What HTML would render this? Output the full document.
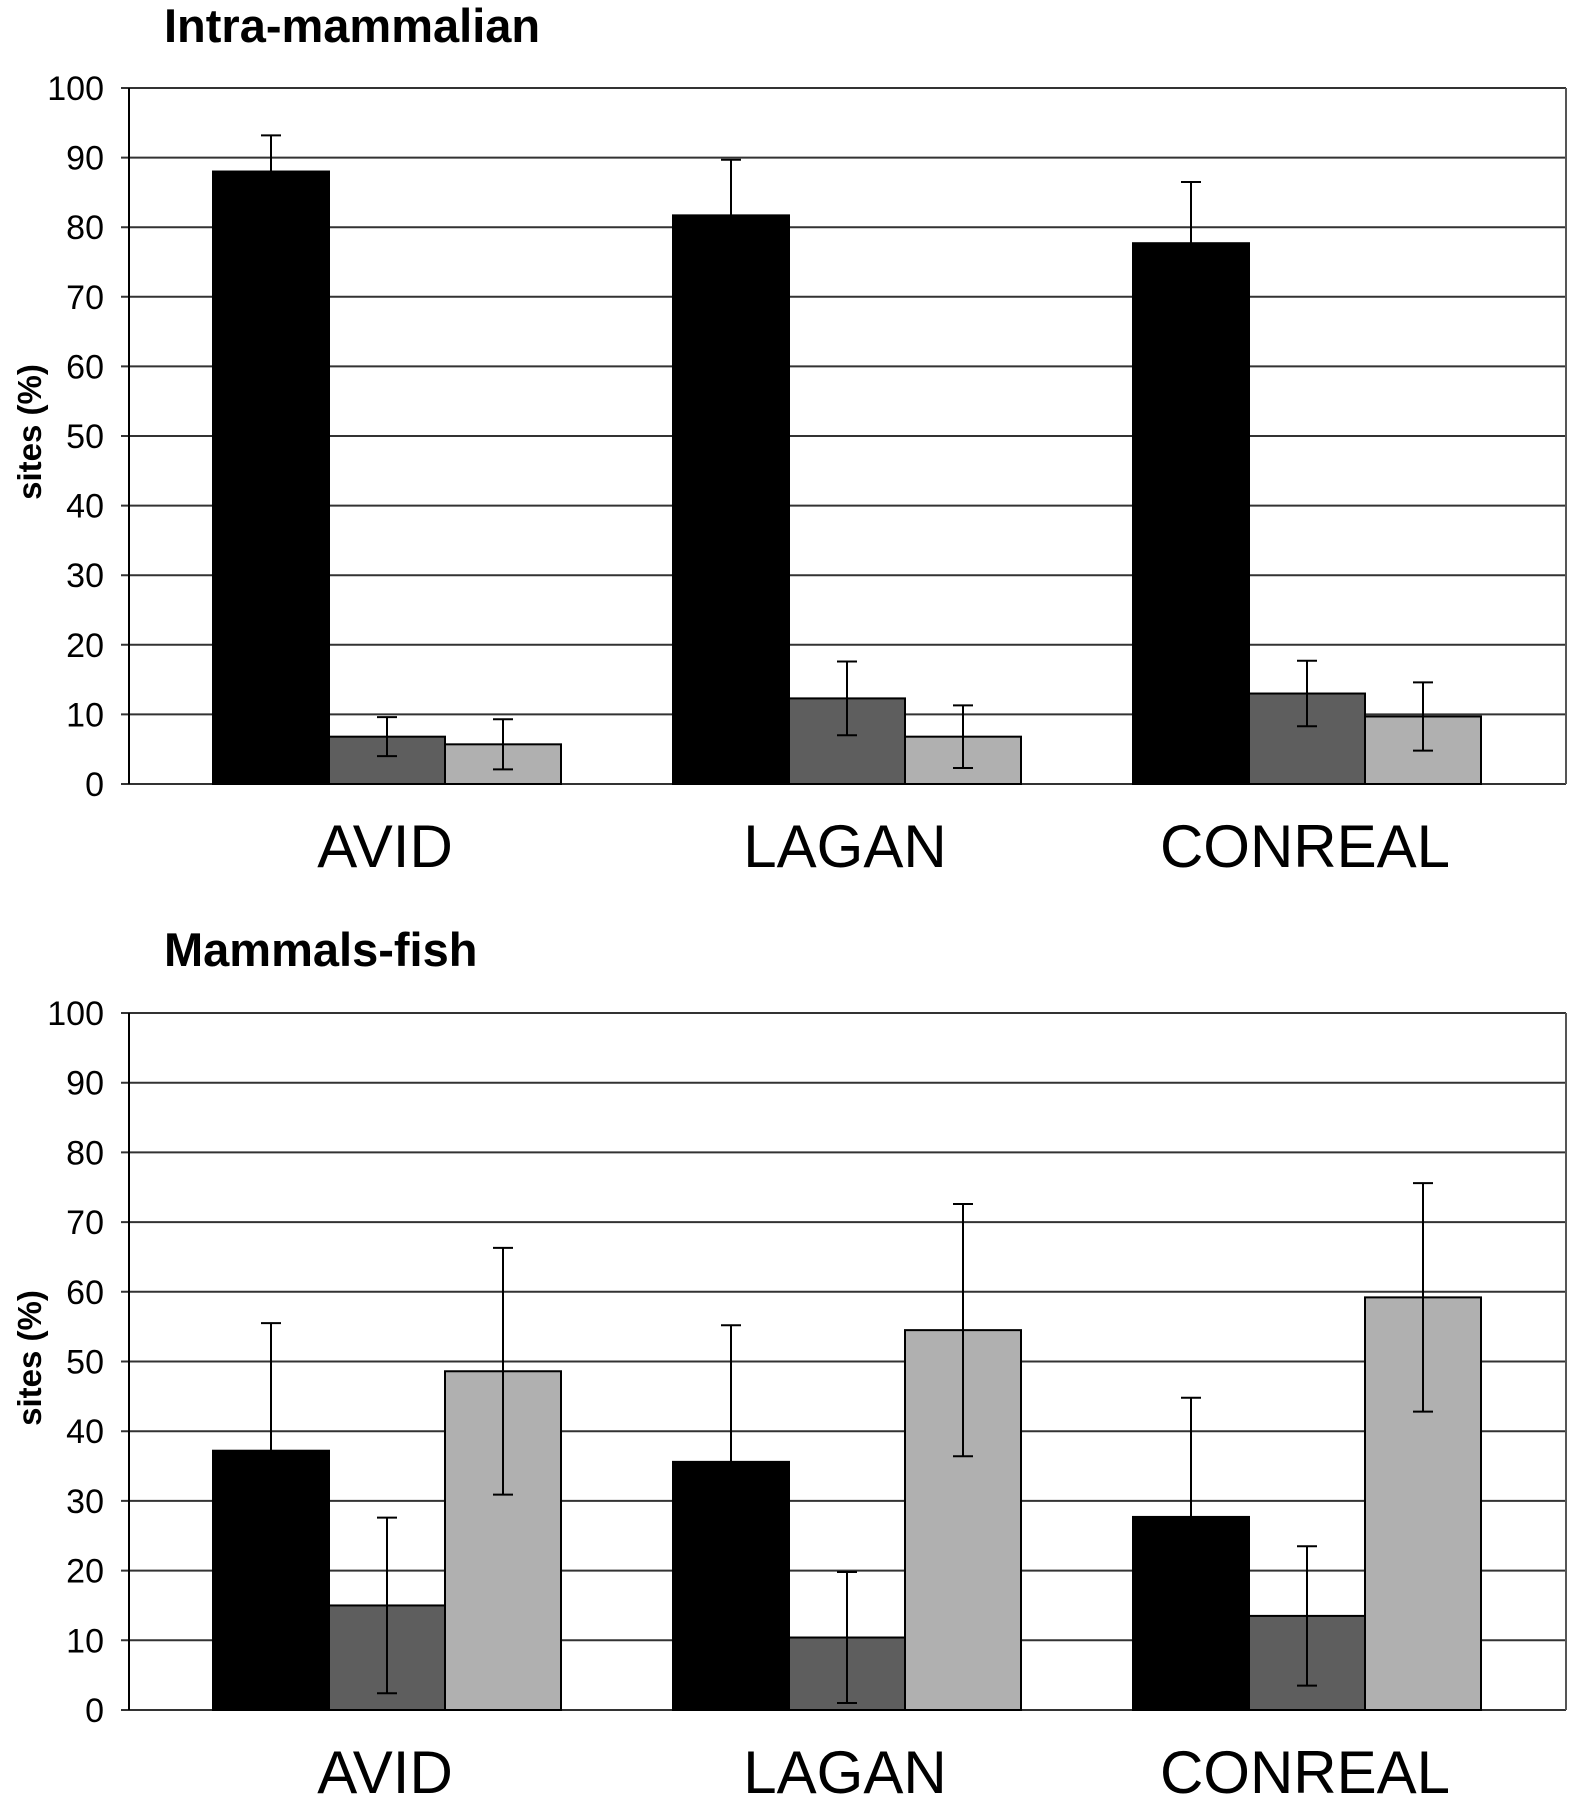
<!DOCTYPE html>
<html><head><meta charset="utf-8"><style>
html,body{margin:0;padding:0;background:#fff;}
svg{display:block;font-family:"Liberation Sans",Arial,sans-serif;}
</style></head><body>
<svg id="chart" width="1576" height="1800" viewBox="0 0 1576 1800" xmlns="http://www.w3.org/2000/svg"></svg>
<script>
const categories = ["AVID","LAGAN","CONREAL"];
const ticks = [0,10,20,30,40,50,60,70,80,90,100];
// Panel 1: Intra-mammalian
const p1Black = [88, 81.7, 77.7];
const p1Dark = [6.8, 12.3, 13.0];
const p1Light = [5.7, 6.8, 9.7];
const p1BlackErr = [5.2, 8.0, 8.8];
const p1DarkErr = [2.8, 5.3, 4.7];
const p1LightErr = [3.6, 4.5, 4.9];
// Panel 2: Mammals-fish
const p2Black = [37.2, 35.6, 27.7];
const p2Dark = [15.0, 10.4, 13.5];
const p2Light = [48.6, 54.5, 59.2];
const p2BlackErr = [18.3, 19.6, 17.1];
const p2DarkErr = [12.6, 9.4, 10.0];
const p2LightErr = [17.7, 18.1, 16.4];

const NS = "http://www.w3.org/2000/svg";
const svg = document.getElementById("chart");
function mk(tag, attrs, parent){
  const e = document.createElementNS(NS, tag);
  for (const k in attrs) e.setAttribute(k, attrs[k]);
  (parent||svg).appendChild(e);
  return e;
}
function panel(title, titleY, y0, y100, series, errs, axisTitleY, labelY, pname){
  const g = mk("g", {});
  
  
  const left = 129, right = 1566;
  const ys = v => y0 - (v/100)*(y0-y100);
  const t = mk("text", {x:164, y:titleY, "font-size":47, "font-weight":"bold", fill:"#000"}, g);
  t.textContent = title;
  
  
  ticks.forEach(v=>{
    const y = ys(v);
    const gl = mk("line", {x1:left-8, x2:right, y1:y, y2:y, stroke:"#333", "stroke-width":2}, g);
    
    
    const tl = mk("text", {x:104, y:y+12, "font-size":34, "text-anchor":"end", fill:"#000"}, g);
    tl.textContent = v;
    
    
  });
  const ax = mk("line", {x1:left, x2:left, y1:y100, y2:y0, stroke:"#000", "stroke-width":2}, g);
  
  
  const rb = mk("line", {x1:right, x2:right, y1:y100, y2:y0, stroke:"#555", "stroke-width":2}, g);
  
  
  const at = mk("text", {x:0, y:0, "font-size":33, "font-weight":"bold", "text-anchor":"middle", transform:`translate(41,${axisTitleY}) rotate(-90)`, fill:"#000"}, g);
  at.textContent = "sites (%)";
  
  
  const fills = ["#000","#5e5e5e","#b0b0b0"];
  const bw = 116, step = 460, start = 213;
  categories.forEach((c,i)=>{
    const gx = start + i*step;
    series.forEach((s,j)=>{
      const x = gx + j*bw;
      const r = mk("rect", {x:x, y:ys(s[i]), width:bw, height:y0-ys(s[i]), fill:fills[j], stroke:"#000", "stroke-width":2}, g);
      
      
      const cx = x + bw/2, e = errs[j][i];
      const hi = ys(s[i]+e), lo = ys(Math.max(0,s[i]-e));
      const el = mk("path", {d:`M${cx},${hi}V${lo}M${cx-10},${hi}H${cx+10}M${cx-10},${lo}H${cx+10}`, stroke:"#000", "stroke-width":2, fill:"none"}, g);
      
      
    });
    const lb = mk("text", {x:gx+172, y:labelY, "font-size":60, "text-anchor":"middle", fill:"#000"}, g);
    lb.textContent = c;
    
    
  });
}
panel("Intra-mammalian", 42, 784, 88, [p1Black,p1Dark,p1Light], [p1BlackErr,p1DarkErr,p1LightErr], 432, 867, "intra-mammalian-panel");
panel("Mammals-fish", 966, 1710, 1013, [p2Black,p2Dark,p2Light], [p2BlackErr,p2DarkErr,p2LightErr], 1358, 1793, "mammals-fish-panel");
</script>
</body></html>
